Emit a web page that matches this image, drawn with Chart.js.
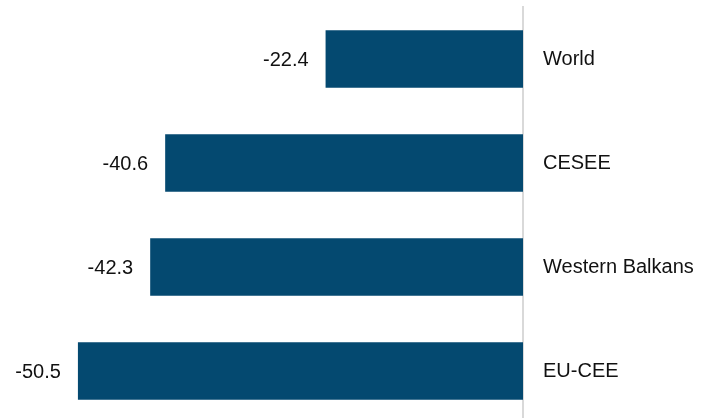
<!DOCTYPE html>
<html>
<head>
<meta charset="utf-8">
<script src="https://cdn.jsdelivr.net/npm/chart.js@4.4.1/dist/chart.umd.min.js"></script>
<style>
  html, body { margin: 0; padding: 0; background: #fff; overflow: hidden; }
  canvas { display: block; }
</style>
</head>
<body>
<canvas id="growthChart" width="706" height="423"></canvas>
<script>
// regions and change values, top to bottom
const regions = ["World", "CESEE", "Western Balkans", "EU-CEE"];
const changeValues = [-22.4, -40.6, -42.3, -50.5];

const FONT = "'Liberation Sans', Arial, sans-serif";

// value labels to the left of each bar end
const valueLabels = {
  id: "valueLabels",
  afterDatasetsDraw(chart) {
    const ctx = chart.ctx;
    const meta = chart.getDatasetMeta(0);
    ctx.save();
    ctx.font = "20px " + FONT;
    ctx.fillStyle = "#111";
    ctx.textAlign = "right";
    ctx.textBaseline = "middle";
    meta.data.forEach((bar, i) => {
      ctx.fillText(changeValues[i].toFixed(1), bar.x - 17, bar.y + 1);
    });
    ctx.restore();
  }
};

const ctx = document.getElementById("growthChart").getContext("2d");
new Chart(ctx, {
  type: "bar",
  data: {
    labels: regions,
    datasets: [{
      data: changeValues,
      backgroundColor: "#044970",
      borderWidth: 0,
      barPercentage: 0.553,
      categoryPercentage: 1
    }]
  },
  options: {
    indexAxis: "y",
    responsive: false,
    animation: false,
    layout: { padding: { top: 7, bottom: 0, left: 3, right: 0 } },
    plugins: {
      legend: { display: false },
      tooltip: { enabled: false }
    },
    scales: {
      x: { display: false, min: -59, max: 0 },
      y: {
        position: "right",
        grid: { display: false, drawTicks: false },
        border: { display: true, color: "#d9d9d9", width: 2 },
        ticks: { padding: 20, color: "#111", font: { size: 20, family: FONT } },
        afterFit: (scale) => {
          // fixed label column, no extra vertical padding from tick text
          scale.width = 183;
          scale.paddingTop = 0;
          scale.paddingBottom = 0;
        }
      }
    }
  },
  plugins: [valueLabels]
});
</script>
</body>
</html>
